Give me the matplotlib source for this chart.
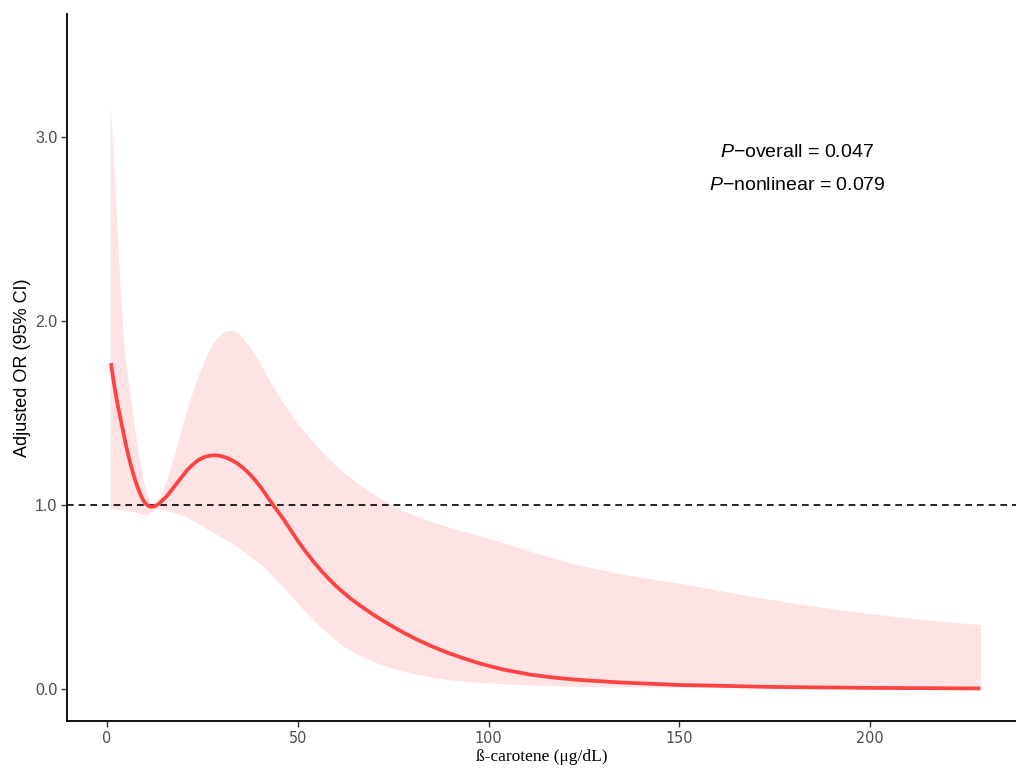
import matplotlib
matplotlib.use("Agg")
import matplotlib.pyplot as plt

# Restricted cubic spline estimate
x_fit = [1.0, 1.5, 2.0, 2.5, 3.0, 3.5, 4.0, 4.5, 5.0, 5.5, 6.0, 6.5, 7.0, 7.5, 8.0, 8.5, 9.0,
         9.5, 10.0, 10.5, 11.0, 11.7, 12.5, 13.5, 14.5, 15.5, 16.5, 18.0, 19.5, 21.0, 22.5,
         24.0, 25.5, 27.0, 28.5, 30.0, 31.5, 33.0, 34.5, 36.0, 37.5, 39.0, 40.5, 42.0, 43.5,
         46, 48, 50, 52, 54, 56, 58, 60, 62, 64, 66, 68, 70, 72, 75, 78, 81, 85, 89, 93,
         97.8, 104, 111, 118, 124, 135, 150, 175, 200, 229]
or_fit = [1.77, 1.70, 1.635, 1.575, 1.52, 1.47, 1.42, 1.37, 1.32, 1.275, 1.235, 1.195, 1.16,
          1.125, 1.095, 1.07, 1.045, 1.025, 1.01, 1.0, 0.993, 0.99, 0.993, 1.005, 1.025,
          1.045, 1.07, 1.11, 1.15, 1.19, 1.22, 1.245, 1.26, 1.268, 1.27, 1.265, 1.255, 1.24,
          1.22, 1.195, 1.165, 1.13, 1.09, 1.045, 1.0,
          0.93, 0.868, 0.805, 0.748, 0.695, 0.646, 0.601, 0.56, 0.523, 0.489, 0.458, 0.429,
          0.401, 0.375, 0.338, 0.303, 0.271, 0.233, 0.199, 0.17, 0.138, 0.105, 0.078, 0.06,
          0.049, 0.035, 0.022, 0.011, 0.006, 0.003]

x_ci = [0.8, 1.2, 1.6, 2.0, 2.5, 3.0, 3.5, 4.0, 4.5, 5.0, 5.5, 6.0, 6.5, 7.0, 7.5, 8.0, 8.5,
        9.0, 9.5, 10.0, 10.5, 11.0, 11.5, 12.0, 12.5, 13.0, 13.5, 14.0, 15, 16, 17, 18, 19,
        20, 21, 22, 23, 24, 25, 26, 27, 28, 29, 30, 31, 32, 33, 34, 35, 36, 37, 38, 39.5,
        41, 42.5, 44, 46, 48, 50, 52, 54, 56, 58, 60, 62.5, 65, 68, 71, 74, 78, 82, 86, 90,
        95, 100, 106, 112, 118, 124, 132, 142, 150, 160, 170, 180, 190, 200, 210, 220, 229]
ci_upper = [3.17, 3.05, 2.90, 2.74, 2.55, 2.35, 2.15, 1.98, 1.85, 1.76, 1.68, 1.60, 1.53,
            1.45, 1.38, 1.31, 1.245, 1.185, 1.13, 1.085, 1.05, 1.025, 1.01, 1.0, 1.0, 1.01,
            1.03, 1.05, 1.10, 1.16, 1.23, 1.30, 1.38, 1.45, 1.52, 1.59, 1.65, 1.71, 1.76,
            1.81, 1.85, 1.885, 1.91, 1.93, 1.945, 1.95, 1.948, 1.94, 1.92, 1.895, 1.87, 1.84,
            1.79, 1.735, 1.68, 1.625, 1.56, 1.50, 1.44, 1.39, 1.34, 1.295, 1.253, 1.213,
            1.168, 1.127, 1.083, 1.043, 1.007, 0.966, 0.932, 0.903, 0.877, 0.848, 0.82, 0.78,
            0.742, 0.706, 0.672, 0.637, 0.60, 0.575, 0.537, 0.5, 0.466, 0.437, 0.41, 0.386,
            0.366, 0.35]
ci_lower = [0.98, 0.98, 0.979, 0.978, 0.977, 0.976, 0.975, 0.973, 0.972, 0.97, 0.968, 0.966,
            0.964, 0.962, 0.96, 0.957, 0.954, 0.951, 0.948, 0.946, 0.947, 0.953, 0.963,
            0.972, 0.978, 0.98, 0.979, 0.977, 0.973, 0.968, 0.963, 0.957, 0.95, 0.942, 0.932,
            0.921, 0.91, 0.897, 0.885, 0.872, 0.86, 0.848, 0.836, 0.824, 0.812, 0.80, 0.79,
            0.775, 0.76, 0.745, 0.73, 0.713, 0.69, 0.665, 0.635, 0.60, 0.555, 0.51, 0.465,
            0.42, 0.377, 0.337, 0.299, 0.264, 0.226, 0.195, 0.165, 0.14, 0.118, 0.095, 0.077,
            0.062, 0.05, 0.04, 0.033, 0.026, 0.021, 0.017, 0.014, 0.012, 0.01, 0.009, 0.007,
            0.006, 0.005, 0.004, 0.003, 0.003, 0.002, 0.002]

x_ticks = [0, 50, 100, 150, 200]
y_ticks = [0.0, 1.0, 2.0, 3.0]
y_ticklabels = ["0.0", "1.0", "2.0", "3.0"]
annot_lines = [r"$\it{P}$−overall = 0.047", r"$\it{P}$−nonlinear = 0.079"]

plt.rcParams['mathtext.fontset'] = 'custom'
plt.rcParams['mathtext.it'] = 'Liberation Sans:italic'
plt.rcParams['mathtext.rm'] = 'Liberation Sans'

fig = plt.figure(figsize=(10.16, 7.70), dpi=100)
ax = fig.add_axes([0.066, 0.0636, 0.934, 0.9184])

ax.fill_between(x_ci, ci_lower, ci_upper, color='#FDE3E3', linewidth=0, zorder=1)
ax.axhline(1.0, color='black', linestyle=(0, (4, 3)), linewidth=1.2, zorder=2)
ax.plot(x_fit, or_fit, color='#FF4242', linewidth=2.7, zorder=3, solid_capstyle='butt')

ax.set_xlim(-10.5, 238.3)
ax.set_ylim(-0.174, 3.668)

ax.set_xticks(x_ticks)
ax.set_xticklabels([str(t) for t in x_ticks], fontfamily=['DejaVu Sans'],
                   fontstretch='condensed', fontsize=11.5, color='#4D4D4D')
ax.set_yticks(y_ticks)
ax.set_yticklabels(y_ticklabels, fontfamily=['Liberation Sans', 'DejaVu Sans'],
                   fontsize=11.5, color='#4D4D4D')

for s in ['top', 'right']:
    ax.spines[s].set_visible(False)
for s in ['left', 'bottom']:
    ax.spines[s].set_linewidth(1.3)
    ax.spines[s].set_color('black')
ax.tick_params(axis='both', direction='out', length=4, width=1.0, color='#333333', pad=3)

ax.set_xlabel("ß-carotene (μg/dL)", fontfamily=['Liberation Serif', 'DejaVu Serif'],
              fontsize=12.5, labelpad=2)
ax.set_ylabel("Adjusted OR (95% CI)", fontfamily=['Liberation Sans', 'DejaVu Sans'],
              fontsize=13, labelpad=3)

ax.text(180.9, 2.915, annot_lines[0], ha='center', va='center', fontsize=14,
        fontfamily=['Liberation Sans', 'DejaVu Sans'])
ax.text(180.9, 2.735, annot_lines[1], ha='center', va='center', fontsize=14,
        fontfamily=['Liberation Sans', 'DejaVu Sans'])

fig.savefig("out.png", dpi=100)
